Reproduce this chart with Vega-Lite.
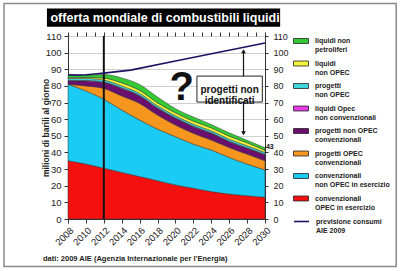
{
  "$schema": "https://vega.github.io/schema/vega-lite/v6.json",
  "width": 197,
  "height": 183,
  "autosize": {"type": "none"},
  "padding": {"left": 68, "top": 36, "right": 135, "bottom": 52},
  "background": "white",
  "config": {"view": {"stroke": null}, "font": "Liberation Sans", "axisX": {"labelOverlap": false}},
  "datasets": {
    "serie": [
      {"o": 1, "nome": "convenzionali|OPEC in esercizio"},
      {"o": 2, "nome": "convenzionali|non OPEC in esercizio"},
      {"o": 3, "nome": "progetti OPEC|convenzionali"},
      {"o": 4, "nome": "progetti non OPEC|convenzionali"},
      {"o": 5, "nome": "liquidi Opec|non convenzionali"},
      {"o": 6, "nome": "progetti|non OPEC"},
      {"o": 7, "nome": "liquidi|non OPEC"},
      {"o": 8, "nome": "liquidi non|petroliferi"}
    ],
    "offerta": [
      {"a": 2008, "o": 1, "v": 35}, {"a": 2010, "o": 1, "v": 33}, {"a": 2012, "o": 1, "v": 30.5}, {"a": 2014, "o": 1, "v": 28}, {"a": 2016, "o": 1, "v": 25.5}, {"a": 2018, "o": 1, "v": 23}, {"a": 2020, "o": 1, "v": 20.5}, {"a": 2022, "o": 1, "v": 18.5}, {"a": 2024, "o": 1, "v": 16.5}, {"a": 2026, "o": 1, "v": 15}, {"a": 2028, "o": 1, "v": 14}, {"a": 2030, "o": 1, "v": 13},
      {"a": 2008, "o": 2, "v": 46}, {"a": 2010, "o": 2, "v": 44}, {"a": 2012, "o": 2, "v": 41.5}, {"a": 2014, "o": 2, "v": 37.5}, {"a": 2016, "o": 2, "v": 34}, {"a": 2018, "o": 2, "v": 31}, {"a": 2020, "o": 2, "v": 29}, {"a": 2022, "o": 2, "v": 26.5}, {"a": 2024, "o": 2, "v": 25}, {"a": 2026, "o": 2, "v": 22}, {"a": 2028, "o": 2, "v": 19}, {"a": 2030, "o": 2, "v": 16.5},
      {"a": 2008, "o": 3, "v": 0}, {"a": 2010, "o": 3, "v": 3}, {"a": 2012, "o": 3, "v": 6.5}, {"a": 2014, "o": 3, "v": 8.5}, {"a": 2016, "o": 3, "v": 10}, {"a": 2018, "o": 3, "v": 8.5}, {"a": 2020, "o": 3, "v": 7}, {"a": 2022, "o": 3, "v": 6.5}, {"a": 2024, "o": 3, "v": 6}, {"a": 2026, "o": 3, "v": 6}, {"a": 2028, "o": 3, "v": 6}, {"a": 2030, "o": 3, "v": 5.5},
      {"a": 2008, "o": 4, "v": 2}, {"a": 2010, "o": 4, "v": 3}, {"a": 2012, "o": 4, "v": 3.5}, {"a": 2014, "o": 4, "v": 4.5}, {"a": 2016, "o": 4, "v": 4.5}, {"a": 2018, "o": 4, "v": 4}, {"a": 2020, "o": 4, "v": 4}, {"a": 2022, "o": 4, "v": 4}, {"a": 2024, "o": 4, "v": 4}, {"a": 2026, "o": 4, "v": 3.5}, {"a": 2028, "o": 4, "v": 3.5}, {"a": 2030, "o": 4, "v": 3.5},
      {"a": 2008, "o": 5, "v": 0.3}, {"a": 2010, "o": 5, "v": 0.3}, {"a": 2012, "o": 5, "v": 0.3}, {"a": 2014, "o": 5, "v": 0.3}, {"a": 2016, "o": 5, "v": 0.3}, {"a": 2018, "o": 5, "v": 0.3}, {"a": 2020, "o": 5, "v": 0.3}, {"a": 2022, "o": 5, "v": 0.3}, {"a": 2024, "o": 5, "v": 0.3}, {"a": 2026, "o": 5, "v": 0.3}, {"a": 2028, "o": 5, "v": 0.3}, {"a": 2030, "o": 5, "v": 0.3},
      {"a": 2008, "o": 6, "v": 1.2}, {"a": 2010, "o": 6, "v": 1.2}, {"a": 2012, "o": 6, "v": 1.2}, {"a": 2014, "o": 6, "v": 1.2}, {"a": 2016, "o": 6, "v": 1.2}, {"a": 2018, "o": 6, "v": 1.2}, {"a": 2020, "o": 6, "v": 1.2}, {"a": 2022, "o": 6, "v": 1.2}, {"a": 2024, "o": 6, "v": 1.2}, {"a": 2026, "o": 6, "v": 1.2}, {"a": 2028, "o": 6, "v": 1.2}, {"a": 2030, "o": 6, "v": 1.2},
      {"a": 2008, "o": 7, "v": 0.4}, {"a": 2010, "o": 7, "v": 0.6}, {"a": 2012, "o": 7, "v": 1.2}, {"a": 2014, "o": 7, "v": 1.8}, {"a": 2016, "o": 7, "v": 1.8}, {"a": 2018, "o": 7, "v": 1.8}, {"a": 2020, "o": 7, "v": 1.8}, {"a": 2022, "o": 7, "v": 1.8}, {"a": 2024, "o": 7, "v": 1.8}, {"a": 2026, "o": 7, "v": 1.8}, {"a": 2028, "o": 7, "v": 1.8}, {"a": 2030, "o": 7, "v": 1.3},
      {"a": 2008, "o": 8, "v": 1.6}, {"a": 2010, "o": 8, "v": 1.4}, {"a": 2012, "o": 8, "v": 2.1}, {"a": 2014, "o": 8, "v": 3}, {"a": 2016, "o": 8, "v": 3.5}, {"a": 2018, "o": 8, "v": 3.5}, {"a": 2020, "o": 8, "v": 2.5}, {"a": 2022, "o": 8, "v": 2.5}, {"a": 2024, "o": 8, "v": 2}, {"a": 2026, "o": 8, "v": 2}, {"a": 2028, "o": 8, "v": 1.5}, {"a": 2030, "o": 8, "v": 1.5}
    ],
    "consumi": [
      {"a": 2008, "v": 86.7}, {"a": 2009, "v": 86.5}, {"a": 2010, "v": 86.7}, {"a": 2011, "v": 87.2}, {"a": 2012, "v": 87.7}, {"a": 2013, "v": 88.3}, {"a": 2014, "v": 88.9}, {"a": 2015, "v": 89.5}, {"a": 2020, "v": 95.0}, {"a": 2025, "v": 100.4}, {"a": 2030, "v": 105.8}
    ]
  },
  "resolve": {"axis": {"y": "independent", "x": "independent"}},
  "layer": [
    {
      "data": {"values": [{}]},
      "mark": {"type": "rect", "fill": null, "stroke": "#8a8a8a", "strokeWidth": 1.5, "clip": false},
      "encoding": {
        "x": {"datum": 2000.85, "type": "quantitative", "axis": null},
        "x2": {"datum": 2044.65},
        "y": {"datum": 129.5, "type": "quantitative", "axis": null},
        "y2": {"datum": -28.5}
      }
    },
    {
      "data": {"name": "offerta"},
      "transform": [
        {"lookup": "o", "from": {"data": {"name": "serie"}, "key": "o", "fields": ["nome"]}}
      ],
      "mark": {"type": "area", "interpolate": "monotone", "stroke": "#333", "strokeWidth": 0.5},
      "encoding": {
        "x": {
          "field": "a", "type": "quantitative",
          "scale": {"domain": [2008, 2030], "nice": false, "zero": false},
          "axis": {
            "values": [2008, 2010, 2012, 2014, 2016, 2018, 2020, 2022, 2024, 2026, 2028, 2030],
            "format": "d",
            "labelAngle": -45, "labelAlign": "right", "labelBaseline": "top",
            "labelFontSize": 9.5, "labelColor": "#222", "labelFlush": false, "labelOverlap": false,
            "labelPadding": 2, "tickSize": 4, "tickColor": "#333", "domainColor": "#333",
            "grid": false, "title": null
          }
        },
        "y": {
          "field": "v", "type": "quantitative", "stack": "zero",
          "scale": {"domain": [0, 110], "nice": false},
          "axis": {
            "values": [0, 10, 20, 30, 40, 50, 60, 70, 80, 90, 100, 110],
            "grid": true, "gridColor": "#d0d0d0",
            "labelFontSize": 9.5, "labelColor": "#222", "labelPadding": 3, "labelFlush": false,
            "tickSize": 4, "tickColor": "#333", "domainColor": "#333",
            "title": "milioni di barili al giorno",
            "titleFontSize": 8.5, "titleFontWeight": "bold", "titleColor": "#222",
            "titleX": -23, "titleY": 91.5, "titleAngle": -90, "titleAlign": "center", "titleBaseline": "middle"
          }
        },
        "fill": {
          "field": "nome", "type": "nominal",
          "scale": {
            "domain": ["liquidi non|petroliferi", "liquidi|non OPEC", "progetti|non OPEC", "liquidi Opec|non convenzionali", "progetti non OPEC|convenzionali", "progetti OPEC|convenzionali", "convenzionali|non OPEC in esercizio", "convenzionali|OPEC in esercizio"],
            "range": ["#35c935", "#f4f43a", "#3fd6dc", "#e33be3", "#6b0f6f", "#f6961f", "#1ccbf4", "#f51010"]
          },
          "legend": {
            "orient": "none", "legendX": 225, "legendY": -3, "title": null, "padding": 0,
            "symbolType": "M-1,-0.33H1V0.33H-1Z", "symbolSize": 225,
            "symbolStrokeColor": "#222", "symbolStrokeWidth": 0.8,
            "labelExpr": "split(datum.label, '|')",
            "labelFont": "Liberation Sans", "labelFontSize": 7, "labelFontWeight": "bold", "labelColor": "#222",
            "labelLimit": 200, "labelOffset": 6, "rowPadding": 2.5
          }
        },
        "order": {"field": "o", "type": "quantitative", "sort": "ascending"}
      }
    },
    {
      "data": {"values": [{}]},
      "mark": {"type": "rule", "color": "#111", "strokeWidth": 2},
      "encoding": {
        "x": {
          "datum": 2012, "type": "quantitative",
          "axis": {
            "values": [2008, 2009, 2010, 2011, 2012, 2013, 2014, 2015, 2016, 2017, 2018, 2019, 2020, 2021, 2022, 2023, 2024, 2025, 2026, 2027, 2028, 2029, 2030],
            "labels": false, "domain": false, "grid": false, "title": null,
            "tickSize": 4, "tickColor": "#333"
          }
        }
      }
    },
    {
      "data": {"name": "consumi"},
      "mark": {"type": "line", "strokeWidth": 1.6},
      "encoding": {
        "x": {"field": "a", "type": "quantitative", "axis": null},
        "y": {
          "field": "v", "type": "quantitative",
          "axis": {
            "orient": "right",
            "values": [0, 10, 20, 30, 40, 50, 60, 70, 80, 90, 100, 110],
            "grid": false, "title": null,
            "labelFontSize": 9, "labelColor": "#222", "labelPadding": 5, "labelFlush": false,
            "tickSize": 3, "tickColor": "#333", "domainColor": "#333"
          }
        },
        "stroke": {
          "datum": "previsione consumi|AIE 2009", "type": "nominal",
          "scale": {"range": ["#1b1464"]},
          "legend": {
            "orient": "none", "legendX": 225, "legendY": 177, "title": null, "padding": 0,
            "symbolType": "stroke", "symbolSize": 225, "symbolStrokeWidth": 1.6,
            "labelExpr": "split(datum.label, '|')",
            "labelFont": "Liberation Sans", "labelFontSize": 7, "labelFontWeight": "bold", "labelColor": "#222",
            "labelLimit": 200, "labelOffset": 6
          }
        }
      }
    },
    {
      "data": {"values": [{}]},
      "mark": {"type": "rect", "color": "#000", "clip": false},
      "encoding": {
        "x": {"datum": 2005.65, "type": "quantitative", "axis": null},
        "x2": {"datum": 2031.69},
        "y": {"datum": 126.5, "type": "quantitative", "axis": null},
        "y2": {"datum": 115.5}
      }
    },
    {
      "data": {"values": [{}]},
      "mark": {"type": "text", "text": "offerta mondiale di combustibili liquidi", "color": "white", "font": "Liberation Sans", "fontSize": 12.5, "fontWeight": "bold", "align": "center", "baseline": "middle"},
      "encoding": {
        "x": {"datum": 2018.84, "type": "quantitative", "axis": null},
        "y": {"datum": 121, "type": "quantitative", "axis": null}
      }
    },
    {
      "data": {"values": [{}]},
      "mark": {"type": "text", "text": "dati: 2009 AIE (Agenzia Internazionale per l'Energia)", "color": "#222", "font": "Liberation Sans", "fontSize": 7.5, "fontWeight": "bold", "align": "left", "baseline": "middle"},
      "encoding": {
        "x": {"datum": 2005.2, "type": "quantitative", "axis": null},
        "y": {"datum": -24, "type": "quantitative", "axis": null}
      }
    },
    {
      "data": {"values": [{}]},
      "mark": {"type": "text", "text": "?", "color": "#111", "font": "Liberation Sans", "fontSize": 40, "fontWeight": "bold", "align": "center", "baseline": "middle"},
      "encoding": {
        "x": {"datum": 2020.7, "type": "quantitative", "axis": null},
        "y": {"datum": 78.7, "type": "quantitative", "axis": null}
      }
    },
    {
      "data": {"values": [{}]},
      "mark": {"type": "rect", "fill": "white", "stroke": "#222", "strokeWidth": 1},
      "encoding": {
        "x": {"datum": 2022.4, "type": "quantitative", "axis": null},
        "x2": {"datum": 2029.7},
        "y": {"datum": 85.9, "type": "quantitative", "axis": null},
        "y2": {"datum": 70.3}
      }
    },
    {
      "data": {"values": [{}]},
      "mark": {"type": "text", "text": ["progetti non", "identificati"], "color": "#111", "font": "Liberation Sans", "fontSize": 10, "fontWeight": "bold", "align": "center", "baseline": "middle", "lineHeight": 11},
      "encoding": {
        "x": {"datum": 2026.05, "type": "quantitative", "axis": null},
        "y": {"datum": 77.6, "type": "quantitative", "axis": null}
      }
    },
    {
      "data": {"values": [{}]},
      "mark": {"type": "rule", "color": "#111", "strokeWidth": 1.2},
      "encoding": {
        "x": {"datum": 2027.6, "type": "quantitative", "axis": null},
        "y": {"datum": 85.9, "type": "quantitative", "axis": null},
        "y2": {"datum": 100.5}
      }
    },
    {
      "data": {"values": [{}]},
      "mark": {"type": "rule", "color": "#111", "strokeWidth": 1.2},
      "encoding": {
        "x": {"datum": 2027.6, "type": "quantitative", "axis": null},
        "y": {"datum": 70.3, "type": "quantitative", "axis": null},
        "y2": {"datum": 52}
      }
    },
    {
      "data": {"values": [{}]},
      "mark": {"type": "point", "shape": "triangle-up", "filled": true, "color": "#111", "size": 22, "opacity": 1},
      "encoding": {
        "x": {"datum": 2027.6, "type": "quantitative", "axis": null},
        "y": {"datum": 100.8, "type": "quantitative", "axis": null}
      }
    },
    {
      "data": {"values": [{}]},
      "mark": {"type": "point", "shape": "triangle-down", "filled": true, "color": "#111", "size": 22, "opacity": 1},
      "encoding": {
        "x": {"datum": 2027.6, "type": "quantitative", "axis": null},
        "y": {"datum": 51.5, "type": "quantitative", "axis": null}
      }
    },
    {
      "data": {"values": [{}]},
      "mark": {"type": "text", "text": "43", "color": "#111", "font": "Liberation Sans", "fontSize": 7, "fontWeight": "bold", "align": "left", "baseline": "middle"},
      "encoding": {
        "x": {"datum": 2030.1, "type": "quantitative", "axis": null},
        "y": {"datum": 43.3, "type": "quantitative", "axis": null}
      }
    }
  ]
}
